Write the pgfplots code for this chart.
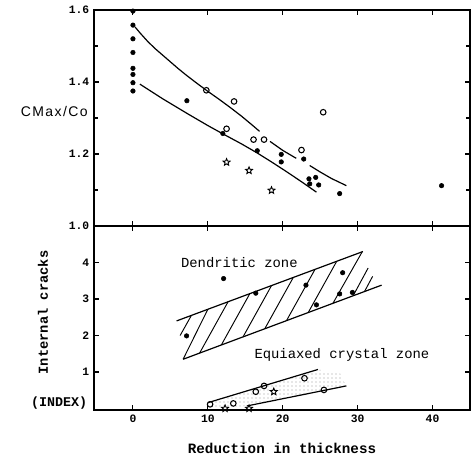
\documentclass[border=0pt]{standalone}
\usepackage{fontspec}
\setmainfont{Liberation Mono}
\newfontfamily\cmaxfont[LetterSpace=10]{Liberation Sans}
\usepackage{pgfplots}
\pgfplotsset{compat=1.18}
\usetikzlibrary{patterns}

% open five-pointed star
\pgfdeclareplotmark{pstar}{%
  \pgfpathmoveto{\pgfpointpolar{90}{\pgfplotmarksize}}%
  \pgfpathlineto{\pgfpointpolar{126}{0.45\pgfplotmarksize}}%
  \pgfpathlineto{\pgfpointpolar{162}{\pgfplotmarksize}}%
  \pgfpathlineto{\pgfpointpolar{198}{0.45\pgfplotmarksize}}%
  \pgfpathlineto{\pgfpointpolar{234}{\pgfplotmarksize}}%
  \pgfpathlineto{\pgfpointpolar{270}{0.45\pgfplotmarksize}}%
  \pgfpathlineto{\pgfpointpolar{306}{\pgfplotmarksize}}%
  \pgfpathlineto{\pgfpointpolar{342}{0.45\pgfplotmarksize}}%
  \pgfpathlineto{\pgfpointpolar{18}{\pgfplotmarksize}}%
  \pgfpathlineto{\pgfpointpolar{54}{0.45\pgfplotmarksize}}%
  \pgfpathclose\pgfusepathqstroke}

\pgfplotsset{
  panel/.style={
    scale only axis, width=282pt,
    xmin=-5.2, xmax=45,
    axis line style={line width=1.1pt},
    tick align=inside, tick pos=both,
    major tick length=3.5pt, minor tick length=3pt,
    every tick/.style={line width=0.8pt, black},
    xtick={0,10,20,30,40},
    /pgf/number format/assume math mode=true,
    ticklabel style={font=\fontsize{8.5}{10}\selectfont\bfseries},
  },
  filled/.style={only marks, mark=*, mark size=1.7pt, black},
  hollow/.style={only marks, mark=o, mark size=2.1pt, black, line width=0.8pt},
  starm/.style={only marks, mark=pstar, mark size=2.7pt, black, line width=0.7pt},
  curve/.style={black, line width=0.9pt, no marks},
}

\begin{document}
\begin{tikzpicture}
\begin{axis}[panel, name=top, height=162pt,
    ymin=1.0, ymax=1.6,
    ytick={1.0,1.2,1.4,1.6}, minor ytick={1.1,1.3,1.5},
    yticklabel style={/pgf/number format/.cd, fixed, fixed zerofill, precision=1},
    xticklabels={},
    clip=false,
  ]
  % upper curve (drawn in broken segments)
  \addplot[curve] coordinates {(0.27,1.553) (1.0,1.535) (2.0,1.512) (3.0,1.492) (4.0,1.474)
    (5.0,1.456) (6.0,1.438) (7.0,1.421) (8.5,1.397) (10.0,1.374) (11.5,1.352) (13.0,1.329)
    (14.5,1.305) (16.0,1.279) (16.9,1.263)};
  \addplot[curve] coordinates {(18.3,1.235) (20.0,1.210) (21.8,1.188)};
  \addplot[curve] coordinates {(23.6,1.168) (25.0,1.150) (26.5,1.132) (28.5,1.112)};
  % lower curve
  \addplot[curve] coordinates {(0.93,1.394) (4.0,1.353) (7.2,1.313) (10.0,1.279) (12.0,1.256)
    (14.5,1.228) (16.5,1.204) (18.5,1.178) (20.5,1.151) (22.5,1.123) (24.5,1.094)};
  % filled circles
  \addplot[filled] coordinates {
    (0,1.597) (0,1.558) (0,1.520) (0,1.482) (0,1.438) (0,1.421) (0,1.398) (0,1.375)
    (7.2,1.348) (12.0,1.257) (16.6,1.209) (19.8,1.199) (19.8,1.178) (22.8,1.186)
    (23.5,1.131) (23.6,1.117) (24.4,1.135) (24.8,1.114) (27.6,1.090) (41.2,1.112)};
  % open circles
  \addplot[hollow] coordinates {
    (9.8,1.377) (13.5,1.346) (12.5,1.270) (16.1,1.240) (17.5,1.240) (22.5,1.211) (25.4,1.316)};
  % stars
  \addplot[starm] coordinates {(12.5,1.177) (15.5,1.154) (18.5,1.099)};
  \node[anchor=west, font=\cmaxfont\fontsize{10.5}{12}\selectfont]
    at (axis description cs:-0.207,0.528) {CMax/Co};
\end{axis}

\begin{axis}[panel, name=bottom, height=138pt,
    at={(top.south west)}, anchor=north west,
    ymin=-0.04, ymax=5.0,
    ytick={1,2,3,4},
    clip=false,
    xlabel={Reduction in thickness},
    xlabel style={font=\fontsize{10.7}{12}\selectfont\bfseries, at={(axis description cs:0.5,-0.207)}, anchor=center},
  ]
  % dendritic zone: band and hatching
  \addplot[curve] coordinates {(5.83,2.40) (30.7,4.30)};
  \addplot[curve] coordinates {(6.7,1.35) (33.2,3.38)};
  \addplot[black, line width=0.7pt, no marks, unbounded coords=jump] coordinates {
    (6.3,2.00) (7.8,2.55) (nan,nan)
    (6.7,1.35) (10.0,2.718) (nan,nan)
    (8.9,1.519) (12.7,2.924) (nan,nan)
    (11.8,1.741) (15.6,3.145) (nan,nan)
    (14.7,1.963) (18.5,3.367) (nan,nan)
    (17.6,2.185) (21.4,3.588) (nan,nan)
    (20.5,2.407) (24.3,3.809) (nan,nan)
    (23.4,2.629) (27.2,4.031) (nan,nan)
    (26.7,2.882) (30.6,4.29) (nan,nan)
    (29.4,3.09) (31.4,3.85) (nan,nan)
    (30.9,3.20) (32.0,3.62)};
  % equiaxed crystal zone: stippled band
  \addplot[draw=none, pattern=dots, pattern color=black!40] coordinates {
    (10.0,0.16) (24.7,1.07) (27.8,0.95) (28.5,0.62) (15.2,0.07) (10.4,0.0)} -- cycle;
  \addplot[curve] coordinates {(10.0,0.16) (24.7,1.07)};
  \addplot[curve] coordinates {(15.2,0.07) (28.5,0.62)};
  % data
  \addplot[filled] coordinates {
    (12.1,3.56) (7.16,1.99) (16.4,3.16) (23.1,3.38) (24.5,2.84) (28.0,3.72) (27.6,3.14) (29.3,3.18)};
  \addplot[hollow] coordinates {
    (10.3,0.115) (13.4,0.14) (16.4,0.46) (17.5,0.62) (22.9,0.83) (25.5,0.51)};
  \addplot[starm] coordinates {(12.3,0.0) (15.5,0.0) (18.8,0.46)};
  \node[anchor=west, font=\fontsize{10.4}{12}\selectfont] at (axis cs:5.8,4.0) {Dendritic zone};
  \node[anchor=west, font=\fontsize{10.4}{12}\selectfont] at (axis cs:15.6,1.47) {Equiaxed crystal zone};
  \node[rotate=90, font=\fontsize{10.3}{12}\selectfont\bfseries] at (axis description cs:-0.136,0.53) {Internal cracks};
  \node[anchor=west, font=\fontsize{10}{12}\selectfont\bfseries] at (axis description cs:-0.18,0.035) {(INDEX)};
\end{axis}
\pgfresetboundingbox
\path ([xshift=-70.5pt,yshift=7.5pt]top.north west) rectangle ([xshift=1.5pt,yshift=-36pt]bottom.south east);
\end{tikzpicture}
\end{document}
